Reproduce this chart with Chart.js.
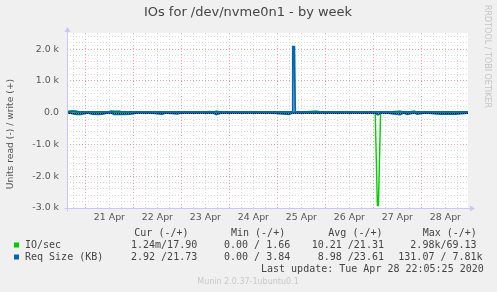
<!DOCTYPE html>
<html>
<head>
<meta charset="utf-8">
<script src="https://cdn.jsdelivr.net/npm/chart.js@4.4.0/dist/chart.umd.min.js"></script>
<style>
  html, body { margin: 0; padding: 0; background: #f0f0f0; }
  #wrap { width: 497px; height: 292px; }
</style>
</head>
<body>
<div id="wrap"><canvas id="io-chart" width="497" height="292"></canvas></div>
<script>
// hours since 21 Apr 00:00
var hours = [-9.2, -7.7, -6, -4.2, -2, 0.9, 3.4, 6, 8.4, 11, 12.9, 14.4, 16.9, 19, 22.4, 26, 32, 38.4, 40, 45.9,
  48, 56, 62.4, 64, 65.4, 68, 80, 92, 101.9, 103.3, 103.7, 104.5, 104.9, 107, 115.4, 118, 130, 140, 144.9, 146.0,
  146.5, 147.6, 150, 157.4, 159, 160.9, 164.4, 165.9, 170, 177.4, 180.9, 184.9, 191.3];

var ioWrite = [18, 60, 65, 50, 18, 18, 18, 18, 18, 18, 60, 50, 60, 18, 18, 18, 18, 18, 18, 18,
  18, 18, 45, 18, 55, 18, 18, 18, 18, 18, 18, 18, 18, 18, 55, 18, 18, 18, 18, 18,
  18, 18, 18, 60, 18, 18, 60, 18, 18, 18, 18, 18, 18];
var ioRead = [-4, -4, -4, -4, -4, -4, -4, -4, -4, -4, -4, -4, -4, -4, -4, -4, -4, -4, -4, -4,
  -4, -4, -4, -4, -4, -4, -4, -4, -4, -4, -4, -4, -4, -4, -4, -4, -4, -4, -4, -2920,
  -2920, -4, -4, -4, -4, -4, -4, -4, -4, -4, -4, -4, -4];
var reqWrite = [25, 40, 45, 30, 25, 25, 25, 25, 25, 25, 35, 30, 28, 25, 25, 25, 25, 25, 25, 25,
  25, 25, 25, 25, 25, 25, 25, 25, 25, 25, 2080, 2080, 25, 25, 25, 25, 25, 25, 25, 25,
  25, 25, 25, 25, 25, 25, 25, 25, 25, 25, 25, 25, 25];
var reqRead = [-8, -8, -40, -55, -50, -8, -45, -50, -40, -8, -8, -50, -55, -50, -45, -8, -8, -40, -8, -35,
  -8, -8, -8, -8, -60, -8, -8, -8, -50, -8, -8, -8, -8, -8, -8, -8, -8, -8, -8, -60,
  -60, -8, -8, -60, -8, -50, -8, -45, -8, -45, -40, -45, -8];

var dayLabels = ["21 Apr", "22 Apr", "23 Apr", "24 Apr", "25 Apr", "26 Apr", "27 Apr", "28 Apr"];

var chartTitle = "IOs for /dev/nvme0n1 - by week";
var yTitle = "Units read (-) / write (+)";
var legendNames = ["IO/sec", "Req Size (KB)"];
var legendColors = ["#00cc00", "#0066b3"];
var legendHeaders = ["Cur (-/+)", "Min (-/+)", "Avg (-/+)", "Max (-/+)"];
var legendCur = ["1.24m/17.90", "2.92 /21.73"];
var legendMin = ["0.00 / 1.66", "0.00 / 3.84"];
var legendAvg = ["10.21 /21.31", " 8.98 /23.61"];
var legendMax = ["  2.98k/69.13", "131.07 / 7.81k"];
var lastUpdate = "Last update: Tue Apr 28 22:05:25 2020";

function toPoints(vals) {
  var pts = [];
  for (var i = 0; i < hours.length; i++) {
    pts.push({ x: hours[i], y: vals[i] });
  }
  return pts;
}

function lineSet(vals, color, width) {
  return {
    data: toPoints(vals),
    borderColor: color,
    borderWidth: width,
    pointRadius: 0,
    fill: false,
    tension: 0
  };
}

var muninPlugin = {
  id: 'munin',
  beforeDraw: function (chart) {
    var ctx = chart.ctx;
    var a = chart.chartArea;
    ctx.save();
    ctx.fillStyle = '#f0f0f0';
    ctx.fillRect(0, 0, chart.width, chart.height);
    ctx.fillStyle = '#ffffff';
    ctx.fillRect(a.left, a.top, a.right - a.left, a.bottom - a.top);
    ctx.restore();
  },
  afterDatasetsDraw: function (chart) {
    var ctx = chart.ctx;
    var a = chart.chartArea;
    var y0 = Math.round(chart.scales.y.getPixelForValue(0)) + 0.5;
    ctx.save();
    ctx.lineWidth = 1;
    ctx.strokeStyle = '#000000';
    ctx.setLineDash([1, 1]);
    ctx.beginPath();
    ctx.moveTo(a.left, y0);
    ctx.lineTo(a.right, y0);
    ctx.stroke();
    ctx.setLineDash([]);

    // axes with arrows
    var l = Math.round(a.left) + 0.5;
    var b = Math.round(a.bottom) + 0.5;
    ctx.strokeStyle = '#c8c8f8';
    ctx.fillStyle = '#c8c8f8';
    ctx.beginPath();
    ctx.moveTo(l, b + 3);
    ctx.lineTo(l, a.top - 3);
    ctx.moveTo(l - 3, b);
    ctx.lineTo(a.right + 3, b);
    ctx.stroke();
    ctx.beginPath();
    ctx.moveTo(l - 3, a.top - 1);
    ctx.lineTo(l + 3, a.top - 1);
    ctx.lineTo(l, a.top - 6);
    ctx.closePath();
    ctx.fill();
    ctx.beginPath();
    ctx.moveTo(a.right + 2, b - 3);
    ctx.lineTo(a.right + 2, b + 3);
    ctx.lineTo(a.right + 7, b);
    ctx.closePath();
    ctx.fill();
    ctx.restore();
  },
  afterDraw: function (chart) {
    var ctx = chart.ctx;
    ctx.save();
    ctx.textBaseline = 'middle';

    ctx.font = '13px "DejaVu Sans"';
    ctx.fillStyle = '#444444';
    ctx.textAlign = 'center';
    ctx.fillText(chartTitle, 248, 13);

    // y axis title
    ctx.save();
    ctx.translate(11, 134);
    ctx.rotate(-Math.PI / 2);
    ctx.font = '9.2px "DejaVu Sans"';
    ctx.fillStyle = '#555555';
    ctx.fillText(yTitle, 0, 0);
    ctx.restore();

    // vertical credit
    ctx.save();
    ctx.translate(487, 5);
    ctx.rotate(Math.PI / 2);
    ctx.font = '8px "DejaVu Sans"';
    ctx.fillStyle = '#c4c4c4';
    ctx.textAlign = 'left';
    ctx.fillText('RRDTOOL / TOBI OETIKER', 0, 0);
    ctx.restore();

    ctx.font = '10px "DejaVu Sans Mono"';
    ctx.fillStyle = '#444444';
    ctx.textAlign = 'left';
    var hx = [134.3, 231, 328.3, 422.7];
    for (var h = 0; h < legendHeaders.length; h++) {
      ctx.fillText(legendHeaders[h], hx[h], 233);
    }
    for (var r = 0; r < legendNames.length; r++) {
      var y = 245 + r * 12;
      ctx.fillStyle = legendColors[r];
      ctx.fillRect(14, y - 2.5, 5, 5);
      ctx.fillStyle = '#444444';
      ctx.fillText(legendNames[r], 25, y);
      ctx.fillText(legendCur[r], 131, y);
      ctx.fillText(legendMin[r], 224, y);
      ctx.fillText(legendAvg[r], 311.7, y);
      ctx.fillText(legendMax[r], 398.3, y);
    }
    ctx.fillText(lastUpdate, 261, 269);

    ctx.font = '8px "DejaVu Sans"';
    ctx.fillStyle = '#c8c8c8';
    ctx.textAlign = 'center';
    ctx.fillText('Munin 2.0.37-1ubuntu0.1', 248, 282);
    ctx.restore();
  }
};

window.onload = function () {
  var gridColor = function (ctx, major) {
    return (ctx.tick && ctx.tick.value % major === 0) ? '#f2a4a4' : '#d8d8d8';
  };

  // Chart.js paints the first dataset on top, so Req Size comes first
  new Chart(document.getElementById("io-chart"), {
    type: 'line',
    data: {
      datasets: [
        lineSet(reqWrite, '#0066b3', 1.8),
        lineSet(reqRead, '#0066b3', 1.8),
        lineSet(ioWrite, '#00cc00', 1.2),
        lineSet(ioRead, '#00cc00', 1.4)
      ]
    },
    plugins: [muninPlugin],
    options: {
      responsive: false,
      animation: false,
      devicePixelRatio: 1,
      layout: { padding: { left: 0, right: 29, top: 33, bottom: 64 } },
      plugins: {
        legend: { display: false },
        tooltip: { enabled: false },
        title: { display: false }
      },
      scales: {
        x: {
          type: 'linear',
          min: -9.2,
          max: 191.3,
          afterFit: function (scale) { scale.height = 20; },
          afterBuildTicks: function (scale) {
            var t = [];
            for (var v = -6; v <= 186; v += 6) t.push({ value: v });
            scale.ticks = t;
          },
          border: { display: false, dash: [1, 2] },
          grid: {
            drawTicks: false,
            color: function (ctx) { return gridColor(ctx, 24); }
          },
          ticks: {
            autoSkip: false,
            maxRotation: 0,
            padding: 4,
            color: '#555555',
            font: { family: 'DejaVu Sans', size: 9.4 },
            callback: function (value) {
              if (((value % 24) + 24) % 24 === 12) {
                return dayLabels[(value - 12) / 24] || '';
              }
              return '';
            }
          }
        },
        y: {
          min: -3000,
          max: 2510,
          afterFit: function (scale) { scale.width = 67; },
          afterBuildTicks: function (scale) {
            var t = [];
            for (var v = -3000; v <= 2400; v += 200) t.push({ value: v });
            scale.ticks = t;
          },
          border: { display: false, dash: [1, 2] },
          grid: {
            drawTicks: false,
            color: function (ctx) { return gridColor(ctx, 1000); }
          },
          ticks: {
            autoSkip: false,
            padding: 8,
            color: '#555555',
            font: { family: 'DejaVu Sans', size: 9.4 },
            callback: function (value) {
              if (value % 1000 !== 0) return '';
              if (value === 0) return '0.0';
              return (value / 1000).toFixed(1) + ' k';
            }
          }
        }
      }
    }
  });
};
</script>
</body>
</html>
